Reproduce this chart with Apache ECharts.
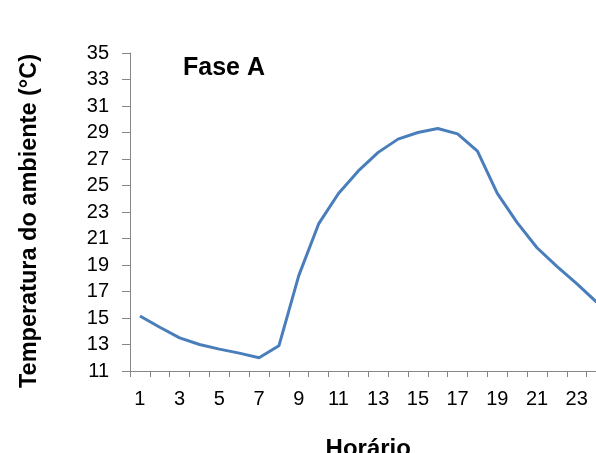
<!DOCTYPE html>
<html><head><meta charset="utf-8">
<script src="https://cdn.jsdelivr.net/npm/echarts@6/dist/echarts.min.js"></script>
<style>html,body{margin:0;padding:0;background:#fff}#c{width:596px;height:453px}</style>
</head><body><div id="c"></div>
<script>
var hours = ['1','2','3','4','5','6','7','8','9','10','11','12','13','14','15','16','17','18','19','20','21','22','23','24'];
var temperatura = [15.15, 14.3, 13.5, 13.0, 12.65, 12.35, 12.0, 12.9, 18.2, 22.1, 24.4, 26.1, 27.5, 28.5, 29.0, 29.3, 28.9, 27.6, 24.4, 22.2, 20.3, 18.9, 17.6, 16.2];
var yTicks = [11, 13, 15, 17, 19, 21, 23, 25, 27, 29, 31, 33, 35];
var xLabelsShown = ['1','3','5','7','9','11','13','15','17','19','21','23'];

var font = '"Liberation Sans", Arial, sans-serif';
var chart = echarts.init(document.getElementById('c'));
chart.setOption({
  animation: false,
  backgroundColor: '#fff',
  title: {
    text: 'Fase A', left: 178, top: 51,
    textStyle: { fontFamily: font, fontSize: 25, fontWeight: 'bold', color: '#000' }
  },
  grid: { left: 130, top: 53, bottom: 82, width: 476.5, containLabel: false, outerBoundsMode: 'none' },
  xAxis: {
    type: 'category',
    data: hours,
    boundaryGap: true,
    name: 'Horário',
    nameLocation: 'middle',
    nameGap: 66,
    nameTextStyle: { fontFamily: font, fontSize: 24, fontWeight: 'bold', color: '#000' },
    axisLine: { lineStyle: { color: '#868686', width: 1 } },
    axisTick: { show: true, interval: 0, alignWithLabel: false, length: 6, lineStyle: { color: '#868686', width: 1 } },
    axisLabel: {
      interval: 0, margin: 18,
      fontFamily: font, fontSize: 20, color: '#000',
      formatter: function (v) { return xLabelsShown.indexOf(v) >= 0 ? v : ''; }
    },
    splitLine: { show: false }
  },
  yAxis: {
    type: 'value',
    min: 11, max: 35,
    name: 'Temperatura do ambiente (°C)',
    nameLocation: 'middle',
    nameGap: 88,
    nameRotate: 90,
    nameTextStyle: { fontFamily: font, fontSize: 23.5, fontWeight: 'bold', color: '#000', padding: [0, 18, 0, 0] },
    axisLine: { show: true, lineStyle: { color: '#868686', width: 1 } },
    axisTick: { show: true, length: 8, lineStyle: { color: '#868686', width: 1 }, customValues: yTicks },
    axisLabel: { fontFamily: font, fontSize: 20, color: '#000', margin: 21, customValues: yTicks },
    splitLine: { show: false }
  },
  series: [{
    type: 'line',
    data: temperatura,
    symbol: 'none',
    smooth: false,
    lineStyle: { color: '#4A7EBB', width: 3 },
    clip: true
  }]
});
</script></body></html>
